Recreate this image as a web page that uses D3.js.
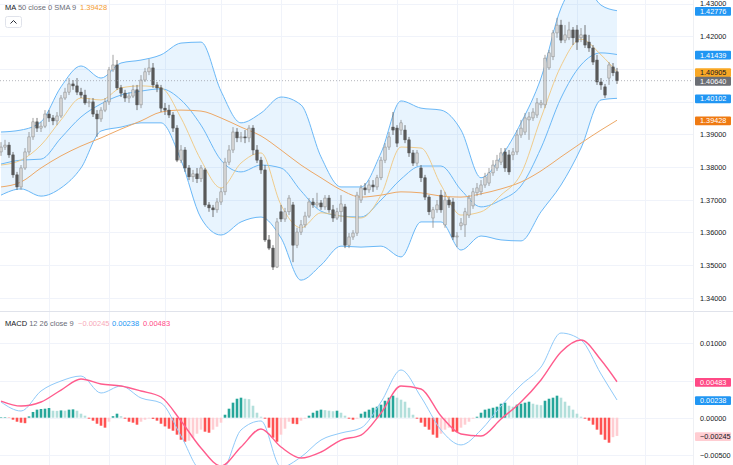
<!DOCTYPE html>
<html>
<head>
<meta charset="utf-8">
<script src="https://cdn.jsdelivr.net/npm/d3@7"></script>
<style>
  body { margin: 0; background: #fff; }
  svg { display: block; font-family: "Liberation Sans", Arial, sans-serif; }
</style>
</head>
<body>
<svg id="chart" width="733" height="465"></svg>
<script>
// candles, one row per bar: [open, high, low, close]
const candles = [
  [1.3846,1.3876,1.3834,1.3861],[1.3861,1.3883,1.3852,1.3867],[1.3867,1.3876,1.3828,1.3837],[1.3837,1.3846,1.3767,1.3776],
  [1.3776,1.3785,1.3730,1.3739],[1.3739,1.3806,1.3730,1.3797],[1.3797,1.3858,1.3791,1.3846],[1.3846,1.3907,1.3837,1.3892],
  [1.3892,1.3950,1.3883,1.3938],[1.3938,1.3950,1.3907,1.3919],[1.3919,1.3938,1.3907,1.3925],[1.3925,1.3974,1.3919,1.3962],
  [1.3962,1.3974,1.3938,1.3950],[1.3950,1.3959,1.3928,1.3941],[1.3941,1.3968,1.3928,1.3956],[1.3956,1.4020,1.3950,1.4011],
  [1.4011,1.4042,1.4005,1.4029],[1.4029,1.4072,1.4020,1.4054],[1.4054,1.4066,1.4036,1.4048],[1.4048,1.4072,1.4020,1.4029],
  [1.4029,1.4042,1.4011,1.4020],[1.4020,1.4036,1.3990,1.3996],[1.3996,1.4011,1.3983,1.3999],[1.3999,1.4011,1.3953,1.3962],
  [1.3962,1.3974,1.3892,1.3947],[1.3947,1.3983,1.3938,1.3974],[1.3974,1.4011,1.3968,1.3999],[1.3999,1.4106,1.3990,1.4097],
  [1.4097,1.4143,1.4091,1.4112],[1.4112,1.4127,1.4036,1.4042],[1.4042,1.4051,1.4014,1.4026],[1.4026,1.4036,1.3999,1.4011],
  [1.4011,1.4029,1.3996,1.4017],[1.4017,1.4051,1.4011,1.4036],[1.4036,1.4051,1.3974,1.3990],[1.3990,1.4081,1.3980,1.4066],
  [1.4066,1.4103,1.4060,1.4091],[1.4091,1.4130,1.4081,1.4103],[1.4103,1.4118,1.4042,1.4051],[1.4051,1.4060,1.4029,1.4042],
  [1.4042,1.4051,1.3968,1.3980],[1.3980,1.3996,1.3959,1.3974],[1.3974,1.3990,1.3950,1.3959],[1.3959,1.3968,1.3907,1.3919],
  [1.3919,1.3928,1.3815,1.3821],[1.3821,1.3867,1.3812,1.3852],[1.3852,1.3861,1.3785,1.3797],[1.3797,1.3806,1.3760,1.3770],
  [1.3770,1.3791,1.3754,1.3779],[1.3779,1.3797,1.3751,1.3764],[1.3764,1.3806,1.3754,1.3797],[1.3791,1.3797,1.3678,1.3684],
  [1.3684,1.3693,1.3663,1.3675],[1.3675,1.3684,1.3647,1.3669],[1.3669,1.3705,1.3660,1.3693],[1.3693,1.3736,1.3684,1.3724],
  [1.3724,1.3828,1.3714,1.3815],[1.3815,1.3867,1.3806,1.3852],[1.3852,1.3922,1.3843,1.3907],[1.3907,1.3919,1.3876,1.3889],
  [1.3889,1.3907,1.3876,1.3892],[1.3892,1.3913,1.3873,1.3889],[1.3889,1.3928,1.3876,1.3919],[1.3919,1.3928,1.3837,1.3852],
  [1.3852,1.3867,1.3812,1.3821],[1.3821,1.3831,1.3779,1.3791],[1.3791,1.3806,1.3571,1.3577],[1.3577,1.3592,1.3546,1.3552],
  [1.3552,1.3561,1.3485,1.3494],[1.3494,1.3644,1.3491,1.3632],[1.3663,1.3684,1.3632,1.3641],[1.3641,1.3675,1.3632,1.3663],
  [1.3663,1.3714,1.3653,1.3705],[1.3684,1.3693,1.3509,1.3561],[1.3561,1.3614,1.3552,1.3601],[1.3601,1.3638,1.3592,1.3623],
  [1.3623,1.3663,1.3614,1.3650],[1.3650,1.3705,1.3644,1.3693],[1.3693,1.3705,1.3675,1.3684],[1.3684,1.3721,1.3675,1.3690],
  [1.3690,1.3699,1.3669,1.3678],[1.3678,1.3714,1.3669,1.3705],[1.3705,1.3714,1.3660,1.3669],[1.3669,1.3684,1.3632,1.3644],
  [1.3644,1.3675,1.3638,1.3663],[1.3663,1.3714,1.3632,1.3687],[1.3678,1.3687,1.3552,1.3561],[1.3561,1.3598,1.3552,1.3586],
  [1.3586,1.3607,1.3577,1.3598],[1.3598,1.3724,1.3589,1.3714],[1.3699,1.3745,1.3690,1.3736],[1.3736,1.3751,1.3714,1.3730],
  [1.3730,1.3760,1.3721,1.3745],[1.3745,1.3760,1.3724,1.3739],[1.3739,1.3776,1.3730,1.3767],[1.3767,1.3831,1.3760,1.3821],
  [1.3821,1.3873,1.3812,1.3861],[1.3861,1.3907,1.3852,1.3892],[1.3922,1.3968,1.3898,1.3913],[1.3919,1.3928,1.3861,1.3873],
  [1.3913,1.3944,1.3898,1.3935],[1.3913,1.3928,1.3873,1.3883],[1.3883,1.3892,1.3831,1.3843],[1.3843,1.3852,1.3803,1.3812],
  [1.3812,1.3852,1.3803,1.3843],[1.3797,1.3806,1.3754,1.3767],[1.3767,1.3776,1.3699,1.3708],[1.3708,1.3714,1.3653,1.3663],
  [1.3644,1.3678,1.3614,1.3669],[1.3669,1.3699,1.3660,1.3684],[1.3714,1.3730,1.3660,1.3669],[1.3623,1.3724,1.3614,1.3699],
  [1.3699,1.3708,1.3675,1.3684],[1.3693,1.3705,1.3577,1.3586],[1.3586,1.3601,1.3555,1.3589],[1.3620,1.3644,1.3607,1.3629],
  [1.3623,1.3675,1.3586,1.3663],[1.3653,1.3714,1.3644,1.3705],[1.3681,1.3736,1.3672,1.3724],[1.3721,1.3751,1.3711,1.3736],
  [1.3724,1.3760,1.3714,1.3745],[1.3745,1.3782,1.3736,1.3770],[1.3751,1.3797,1.3742,1.3782],[1.3782,1.3821,1.3773,1.3806],
  [1.3797,1.3837,1.3788,1.3821],[1.3815,1.3858,1.3806,1.3843],[1.3846,1.3858,1.3785,1.3797],[1.3837,1.3852,1.3776,1.3785],
  [1.3837,1.3858,1.3821,1.3846],[1.3846,1.3913,1.3837,1.3898],[1.3898,1.3944,1.3889,1.3919],[1.3907,1.3965,1.3898,1.3950],
  [1.3944,1.3968,1.3883,1.3953],[1.3950,1.3980,1.3941,1.3968],[1.3959,1.4011,1.3950,1.3996],[1.3990,1.4005,1.3980,1.3996],
  [1.3990,1.4143,1.3980,1.4133],[1.4103,1.4158,1.4097,1.4149],[1.4137,1.4219,1.4127,1.4210],[1.4210,1.4256,1.4195,1.4234],
  [1.4234,1.4250,1.4179,1.4188],[1.4188,1.4234,1.4179,1.4204],[1.4195,1.4244,1.4188,1.4219],[1.4219,1.4228,1.4173,1.4195],
  [1.4219,1.4234,1.4158,1.4182],[1.4195,1.4225,1.4182,1.4204],[1.4204,1.4234,1.4164,1.4173],[1.4182,1.4204,1.4152,1.4164],
  [1.4164,1.4173,1.4112,1.4121],[1.4127,1.4143,1.4051,1.4060],[1.4060,1.4072,1.4036,1.4051],[1.4045,1.4054,1.4011,1.4020],
  [1.4072,1.4121,1.4051,1.4112],[1.4106,1.4118,1.4078,1.4088],[1.4091,1.4103,1.4054,1.4064]
];

// MACD histogram, one value per bar
const histogram = [
  0.00007,0.00007,-0.00004,-0.00027,-0.00054,-0.00067,-0.00074,0.00017,0.00077,0.00108,
  0.00117,0.00121,0.00130,0.00094,0.00092,0.00098,0.00094,0.00108,0.00112,0.00094,
  0.00054,0.00027,-0.00013,-0.00040,-0.00081,-0.00108,-0.00134,-0.00054,0.00020,0.00054,
  0.00020,-0.00013,-0.00054,-0.00067,-0.00094,-0.00054,-0.00027,-0.00010,-0.00016,-0.00040,
  -0.00081,-0.00117,-0.00148,-0.00175,-0.00228,-0.00296,-0.00323,-0.00309,-0.00269,-0.00215,
  -0.00161,-0.00188,-0.00202,-0.00161,-0.00121,-0.00067,0.00040,0.00121,0.00202,0.00255,
  0.00269,0.00255,0.00249,0.00161,0.00067,0.00013,-0.00013,-0.00134,-0.00269,-0.00323,
  -0.00228,-0.00148,-0.00054,-0.00081,-0.00087,-0.00040,-0.00013,0.00027,0.00067,0.00094,
  0.00108,0.00101,0.00094,0.00087,0.00094,0.00067,0.00027,-0.00013,-0.00027,-0.00013,
  0.00054,0.00081,0.00108,0.00134,0.00148,0.00175,0.00228,0.00269,0.00296,0.00269,
  0.00242,0.00215,0.00134,0.00040,-0.00013,-0.00067,-0.00121,-0.00161,-0.00228,-0.00269,
  -0.00215,-0.00161,-0.00134,-0.00188,-0.00195,-0.00134,-0.00094,-0.00054,-0.00013,0.00013,
  0.00067,0.00108,0.00121,0.00134,0.00148,0.00188,0.00202,0.00161,0.00148,0.00175,
  0.00188,0.00202,0.00215,0.00188,0.00175,0.00168,0.00228,0.00255,0.00269,0.00296,
  0.00269,0.00215,0.00161,0.00108,0.00054,0.00013,-0.00013,-0.00040,-0.00094,-0.00161,
  -0.00228,-0.00296,-0.00336,-0.00262,-0.00245
];

// indicator lines, read at every 5th bar
const sampleIdx = [0,5,10,15,20,25,30,35,40,45,50,55,60,65,70,75,80,85,90,95,100,105,110,115,120,125,130,135,140,145,150,154];
const bbUpper = [1.3907,1.3913,1.3938,1.4045,1.4109,1.4072,1.4118,1.4127,1.4143,1.4179,1.4182,1.4032,1.3935,1.3965,1.4014,1.3990,1.3831,1.3739,1.3739,1.3843,1.4002,1.3980,1.3974,1.3913,1.3767,1.3831,1.3935,1.4072,1.4286,1.4366,1.4295,1.4278];
const bbBasis = [1.3809,1.3821,1.3824,1.3889,1.3953,1.3993,1.4020,1.4032,1.4039,1.4005,1.3928,1.3821,1.3785,1.3806,1.3797,1.3727,1.3665,1.3650,1.3647,1.3699,1.3763,1.3803,1.3803,1.3730,1.3678,1.3699,1.3742,1.3858,1.4011,1.4112,1.4149,1.4144];
const bbLower = [1.3714,1.3733,1.3711,1.3736,1.3797,1.3910,1.3922,1.3935,1.3935,1.3821,1.3644,1.3592,1.3632,1.3647,1.3583,1.3454,1.3500,1.3558,1.3555,1.3558,1.3525,1.3632,1.3632,1.3546,1.3589,1.3577,1.3574,1.3663,1.3745,1.3858,1.4005,1.4010];
const fastMa = [1.3806,1.3821,1.3867,1.3944,1.4011,1.4005,1.4042,1.4048,1.4042,1.3950,1.3821,1.3736,1.3812,1.3843,1.3684,1.3614,1.3660,1.3650,1.3644,1.3714,1.3861,1.3858,1.3745,1.3653,1.3663,1.3714,1.3779,1.3950,1.4109,1.4191,1.4143,1.4091];
const ma50 = [1.3739,1.3754,1.3797,1.3834,1.3864,1.3889,1.3916,1.3941,1.3968,1.3974,1.3971,1.3950,1.3922,1.3895,1.3852,1.3806,1.3767,1.3730,1.3708,1.3714,1.3724,1.3721,1.3711,1.3708,1.3718,1.3733,1.3754,1.3788,1.3831,1.3873,1.3913,1.3943];
const macdLine = [0.00211,0.00090,0.00359,0.00493,0.00560,0.00332,0.00426,0.00265,0.00198,-0.00245,-0.00703,-0.00730,-0.00165,-0.00044,-0.00663,-0.00528,-0.00300,-0.00206,-0.00138,0.00211,0.00641,0.00278,-0.00165,-0.00366,-0.00165,0.00157,0.00439,0.00681,0.01138,0.01044,0.00587,0.00238];
const signalLine = [0.00224,0.00157,0.00211,0.00372,0.00520,0.00453,0.00426,0.00359,0.00278,-0.00044,-0.00407,-0.00649,-0.00394,-0.00152,-0.00394,-0.00542,-0.00461,-0.00300,-0.00233,0.00063,0.00426,0.00386,0.00023,-0.00219,-0.00246,-0.00017,0.00211,0.00507,0.00883,0.01044,0.00775,0.00483];

// axes
const priceTicks = [1.34,1.35,1.36,1.37,1.38,1.39,1.40,1.41,1.42,1.43];
const macdTicks = [-0.005,0,0.005,0.01];
const timeGridIdx = [12,27,41,55,70,84,99,114,128,144,161];

// last value tags
const priceTags = [1.42776, 1.41439, 1.40905, 1.40640, 1.40102, 1.39428];
const priceTagFill = ["#2196f3","#2196f3","#f9a825","#6b6e74","#2196f3","#ef7a12"];
const priceTagText = ["#fff","#fff","#131722","#fff","#fff","#fff"];
const macdTags = [0.00483, 0.00238, -0.00245];
const macdTagFill = ["#ff4a86","#2196f3","#ffcdd2"];
const macdTagText = ["#fff","#fff","#131722"];

const W = 733, H = 465, plotW = 693, split = 311;
const svg = d3.select("#chart");

const x = d3.scaleLinear().domain([0, 173]).range([1, 693]);
const yP = d3.scaleLinear().domain([1.34, 1.43]).range([297.8, 3.5]);
const yM = d3.scaleLinear().domain([-0.005, 0.01]).range([454.9, 343.3]);

const defs = svg.append("defs");
defs.append("clipPath").attr("id", "clipP")
  .append("rect").attr("x", 0).attr("y", 0).attr("width", plotW).attr("height", split);
defs.append("clipPath").attr("id", "clipM")
  .append("rect").attr("x", 0).attr("y", split + 1).attr("width", plotW).attr("height", H - split - 1);

// grid
const grid = svg.append("g").attr("stroke", "#f0f3fa").attr("stroke-width", 1);
grid.selectAll("line.v").data(timeGridIdx).join("line")
  .attr("x1", d => Math.round(x(d)) + 0.5).attr("x2", d => Math.round(x(d)) + 0.5)
  .attr("y1", 0).attr("y2", H);
grid.selectAll("line.hp").data(priceTicks).join("line")
  .attr("x1", 0).attr("x2", plotW)
  .attr("y1", d => Math.round(yP(d)) + 0.5).attr("y2", d => Math.round(yP(d)) + 0.5);
grid.selectAll("line.hm").data(macdTicks).join("line")
  .attr("x1", 0).attr("x2", plotW)
  .attr("y1", d => Math.round(yM(d)) + 0.5).attr("y2", d => Math.round(yM(d)) + 0.5);

// pane borders
svg.append("line").attr("x1", 0).attr("x2", W).attr("y1", split + 0.5).attr("y2", split + 0.5)
  .attr("stroke", "#e0e3eb");
svg.append("line").attr("x1", plotW + 0.5).attr("x2", plotW + 0.5).attr("y1", 0).attr("y2", H)
  .attr("stroke", "#eef0f4");

// ---- price pane
const pp = svg.append("g").attr("clip-path", "url(#clipP)");

const band = sampleIdx.map((d, k) => ({ i: d, u: bbUpper[k], m: bbBasis[k], l: bbLower[k], f: fastMa[k], s: ma50[k] }));
const curve = d3.curveMonotoneX;

pp.append("path").datum(band)
  .attr("fill", "rgba(33,150,243,0.1)")
  .attr("d", d3.area().x(d => x(d.i)).y0(d => yP(d.l)).y1(d => yP(d.u)).curve(curve));

function priceLine(key, color, width) {
  pp.append("path").datum(band)
    .attr("fill", "none").attr("stroke", color).attr("stroke-width", width)
    .attr("d", d3.line().x(d => x(d.i)).y(d => yP(d[key])).curve(curve));
}
priceLine("u", "#6ab8f7", 1);
priceLine("l", "#6ab8f7", 1);
priceLine("m", "#6ab8f7", 1);
priceLine("s", "#eda866", 1);
priceLine("f", "rgba(240,196,120,0.85)", 1);

// candles
const bars = pp.append("g");
candles.forEach((c, i) => {
  const [o, h, l, cl] = c;
  const up = cl >= o;
  const cx = x(i);
  bars.append("line")
    .attr("x1", cx).attr("x2", cx).attr("y1", yP(h)).attr("y2", yP(l))
    .attr("stroke", up ? "#8a8a8a" : "#555").attr("stroke-width", 0.8);
  const top = yP(Math.max(o, cl)), bot = yP(Math.min(o, cl));
  bars.append("rect")
    .attr("x", cx - 1.2).attr("width", 2.4)
    .attr("y", top).attr("height", Math.max(0.8, bot - top))
    .attr("fill", up ? "#d4d4d4" : "#5a5a5a")
    .attr("stroke", up ? "#8a8a8a" : "#4a4a4a").attr("stroke-width", 0.5);
});

// last price dotted line
const lastClose = candles[candles.length - 1][3];
svg.append("line")
  .attr("x1", 0).attr("x2", plotW)
  .attr("y1", yP(lastClose)).attr("y2", yP(lastClose))
  .attr("stroke", "#9598a1").attr("stroke-width", 0.7).attr("stroke-dasharray", "1,2");

// ---- MACD pane
const mp = svg.append("g").attr("clip-path", "url(#clipM)");

mp.selectAll("rect").data(histogram).join("rect")
  .attr("x", (d, i) => x(i) - 1.3).attr("width", 2.6)
  .attr("y", d => Math.min(yM(d), yM(0)))
  .attr("height", d => Math.abs(yM(d) - yM(0)))
  .attr("fill", (d, i) => {
    const prev = i > 0 ? histogram[i - 1] : d;
    if (d >= 0) return d >= prev ? "#26a69a" : "#b2dfdb";
    return d <= prev ? "#ff5252" : "#ffcdd2";
  });

const macdPts = sampleIdx.map((d, k) => ({ i: d, m: macdLine[k], s: signalLine[k] }));
mp.append("path").datum(macdPts)
  .attr("fill", "none").attr("stroke", "#90caf9").attr("stroke-width", 1)
  .attr("d", d3.line().x(d => x(d.i)).y(d => yM(d.m)).curve(curve));
mp.append("path").datum(macdPts)
  .attr("fill", "none").attr("stroke", "#ff5c8d").attr("stroke-width", 1.4)
  .attr("d", d3.line().x(d => x(d.i)).y(d => yM(d.s)).curve(curve));

// ---- right axes
const fs = "7.3px";
function drawAxis(scale, ticks, fmt, tags) {
  const g = svg.append("g").attr("transform", "translate(700,0)")
    .call(d3.axisRight(scale).tickValues(ticks).tickFormat(fmt).tickSize(0).tickPadding(0));
  g.select(".domain").remove();
  g.selectAll("text").attr("fill", "#131722").style("font-size", fs).attr("x", 0)
    .style("display", d => tags.some(t => Math.abs(scale(t) - scale(d)) < 6) ? "none" : null);
}
drawAxis(yP, priceTicks, d3.format(".5f"), priceTags);
drawAxis(yM, macdTicks, d => d3.format(".5f")(d).replace("-", "\u2212"), macdTags);

function drawTags(scale, vals, fills, texts) {
  const g = svg.append("g");
  vals.forEach((v, k) => {
    const cy = scale(v) + 0.5;
    g.append("rect").attr("x", 695).attr("y", cy - 4.3).attr("width", 36).attr("height", 8.8)
      .attr("rx", 1).attr("fill", fills[k]);
    g.append("text").attr("x", 700).attr("y", cy).attr("dy", "0.35em")
      .attr("fill", texts[k]).style("font-size", fs)
      .text(d3.format(".5f")(v).replace("-", "\u2212"));
  });
}
drawTags(yP, priceTags, priceTagFill, priceTagText);
drawTags(yM, macdTags, macdTagFill, macdTagText);

// ---- legends
const lg = svg.append("text").attr("x", 5).attr("y", 10).style("font-size", "7.5px").attr("fill", "#6a6d78");
lg.append("tspan").attr("fill", "#131722").text("MA");
lg.append("tspan").text(" 50 close 0 SMA 9");
lg.append("tspan").attr("x", 80).attr("fill", "#f39a2e").text(d3.format(".5f")(priceTags[5]));

svg.append("rect").attr("x", 5.5).attr("y", 16.5).attr("width", 16).attr("height", 11).attr("rx", 2)
  .attr("fill", "#fff").attr("stroke", "#e0e3eb");
svg.append("path").attr("d", "M10.5,23.5 L13.5,20.5 L16.5,23.5").attr("fill", "none")
  .attr("stroke", "#131722").attr("stroke-width", 0.9);

const ml = svg.append("text").attr("x", 5).attr("y", 326).style("font-size", "7.5px").attr("fill", "#6a6d78");
ml.append("tspan").attr("fill", "#131722").text("MACD");
ml.append("tspan").text(" 12 26 close 9");
const legendVals = [histogram[histogram.length - 1], macdLine[macdLine.length - 1], signalLine[signalLine.length - 1]];
const legendCols = ["#f7a9b8", "#2196f3", "#ff4a86"];
const legendX = [78, 112, 143];
legendVals.forEach((v, k) => {
  ml.append("tspan").attr("x", legendX[k]).attr("fill", legendCols[k])
    .text(d3.format(".5f")(v).replace("-", "\u2212"));
});
</script>
</body>
</html>
